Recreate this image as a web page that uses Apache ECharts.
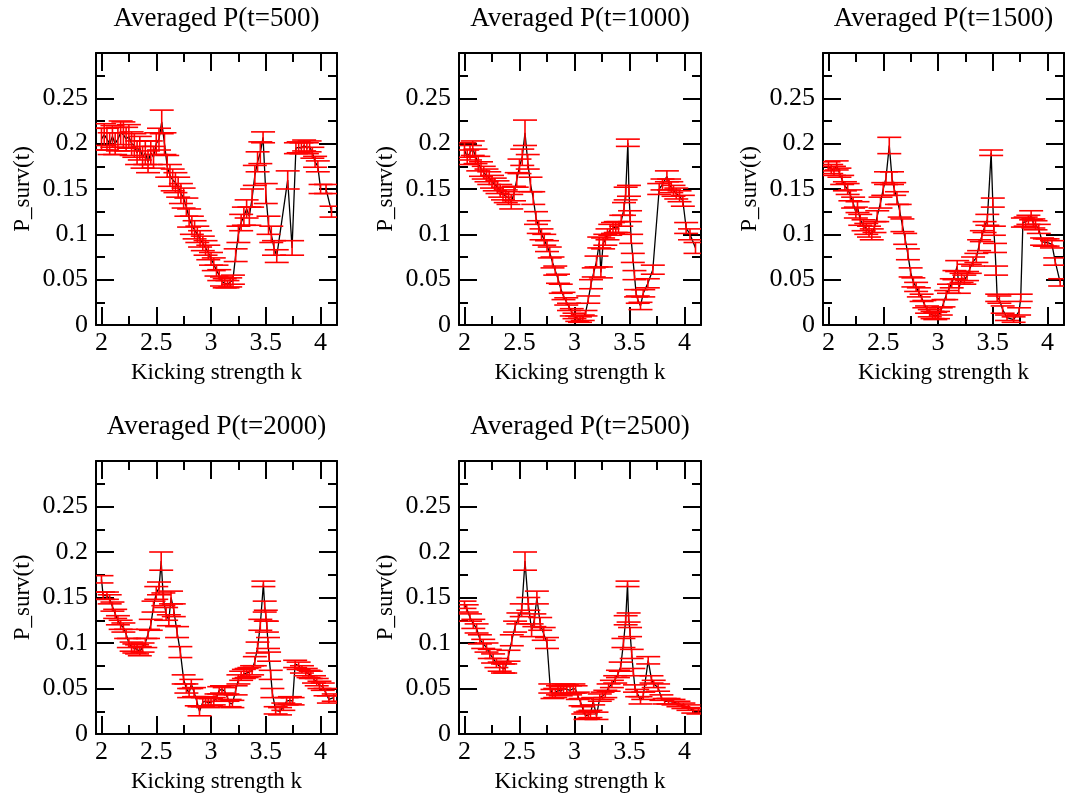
<!DOCTYPE html>
<html><head><meta charset="utf-8">
<script src="https://cdn.jsdelivr.net/npm/echarts@6/dist/echarts.min.js"></script>
<style>html,body{margin:0;padding:0;background:#fff}#c{width:1065px;height:799px}</style>
</head><body><div id="c"></div>
<script>
const titles = ['Averaged P(t=500)','Averaged P(t=1000)','Averaged P(t=1500)','Averaged P(t=2000)','Averaged P(t=2500)'];
const xTickLabels = [2, 2.5, 3, 3.5, 4];
const xMinorTicks = [2.25, 2.75, 3.25, 3.75];
const xName = 'Kicking strength k';
const yName = 'P_surv(t)';

const k500 = [2.000,2.025,2.050,2.075,2.100,2.125,2.150,2.175,2.200,2.225,2.250,2.275,2.300,2.325,2.350,2.375,2.400,2.425,2.450,2.475,2.500,2.525,2.550,2.575,2.600,2.625,2.650,2.675,2.700,2.725,2.750,2.775,2.800,2.825,2.850,2.875,2.900,2.925,2.950,2.975,3.000,3.025,3.050,3.075,3.100,3.125,3.150,3.175,3.200,3.225,3.250,3.275,3.300,3.325,3.350,3.375,3.400,3.425,3.450,3.475,3.500,3.525,3.550,3.575,3.600,3.700,3.740,3.775,3.800,3.825,3.850,3.875,3.900,3.925,3.950,3.975,4.000,4.050,4.100];
const p500 = [0.205,0.210,0.205,0.200,0.208,0.200,0.205,0.212,0.210,0.205,0.208,0.200,0.198,0.190,0.195,0.185,0.190,0.180,0.190,0.185,0.200,0.205,0.224,0.200,0.175,0.165,0.160,0.157,0.152,0.145,0.140,0.130,0.118,0.110,0.105,0.100,0.095,0.090,0.085,0.080,0.073,0.067,0.060,0.055,0.048,0.046,0.045,0.047,0.050,0.077,0.100,0.113,0.120,0.128,0.120,0.140,0.165,0.180,0.190,0.207,0.145,0.110,0.100,0.085,0.076,0.160,0.085,0.195,0.196,0.195,0.198,0.195,0.197,0.190,0.180,0.175,0.150,0.150,0.125];
const e500 = [0.012,0.012,0.012,0.012,0.012,0.012,0.013,0.013,0.014,0.013,0.013,0.013,0.013,0.013,0.013,0.012,0.013,0.012,0.013,0.012,0.012,0.012,0.013,0.012,0.012,0.012,0.012,0.011,0.011,0.011,0.011,0.010,0.010,0.010,0.010,0.009,0.009,0.008,0.008,0.008,0.007,0.007,0.006,0.006,0.005,0.005,0.004,0.005,0.005,0.007,0.009,0.009,0.010,0.010,0.010,0.010,0.011,0.011,0.012,0.006,0.011,0.010,0.009,0.008,0.007,0.010,0.008,0.006,0.006,0.006,0.006,0.006,0.006,0.006,0.006,0.006,0.005,0.005,0.006];

const k1000 = [2.000,2.025,2.050,2.075,2.100,2.125,2.150,2.175,2.200,2.225,2.250,2.275,2.300,2.325,2.350,2.375,2.400,2.425,2.450,2.475,2.500,2.525,2.550,2.575,2.600,2.625,2.650,2.675,2.700,2.725,2.750,2.775,2.800,2.825,2.850,2.875,2.900,2.925,2.950,2.975,3.000,3.025,3.050,3.075,3.100,3.125,3.150,3.175,3.200,3.225,3.240,3.260,3.280,3.300,3.325,3.350,3.375,3.400,3.425,3.450,3.465,3.485,3.495,3.505,3.515,3.530,3.545,3.560,3.575,3.600,3.625,3.667,3.712,3.770,3.800,3.840,3.860,3.880,3.900,3.925,3.955,3.985,4.015,4.050,4.100];
const p1000 = [0.193,0.185,0.190,0.195,0.186,0.178,0.172,0.168,0.165,0.162,0.158,0.155,0.152,0.148,0.145,0.142,0.140,0.136,0.145,0.160,0.175,0.185,0.212,0.180,0.155,0.140,0.118,0.108,0.100,0.094,0.087,0.080,0.069,0.060,0.051,0.040,0.032,0.026,0.020,0.014,0.010,0.007,0.006,0.008,0.013,0.028,0.045,0.058,0.070,0.091,0.058,0.090,0.094,0.100,0.105,0.107,0.108,0.108,0.115,0.128,0.145,0.201,0.148,0.120,0.095,0.074,0.055,0.035,0.028,0.021,0.035,0.046,0.061,0.150,0.155,0.164,0.155,0.152,0.148,0.145,0.142,0.137,0.107,0.100,0.085];
const e1000 = [0.008,0.008,0.008,0.008,0.008,0.008,0.008,0.007,0.007,0.007,0.007,0.007,0.007,0.007,0.007,0.007,0.007,0.008,0.008,0.008,0.008,0.009,0.014,0.008,0.008,0.007,0.007,0.007,0.006,0.006,0.006,0.006,0.006,0.005,0.005,0.005,0.004,0.004,0.004,0.004,0.003,0.003,0.003,0.003,0.003,0.004,0.005,0.005,0.006,0.006,0.006,0.006,0.006,0.006,0.006,0.006,0.006,0.006,0.006,0.007,0.007,0.004,0.006,0.006,0.005,0.005,0.005,0.004,0.004,0.004,0.004,0.005,0.005,0.006,0.006,0.006,0.006,0.006,0.006,0.006,0.006,0.006,0.006,0.006,0.006];

const k1500 = [2.000,2.025,2.050,2.075,2.100,2.125,2.150,2.175,2.200,2.225,2.250,2.265,2.290,2.320,2.345,2.370,2.395,2.420,2.445,2.475,2.500,2.525,2.555,2.580,2.600,2.625,2.650,2.675,2.700,2.725,2.750,2.775,2.800,2.825,2.850,2.875,2.900,2.925,2.950,2.975,3.000,3.025,3.050,3.075,3.100,3.125,3.150,3.175,3.190,3.215,3.240,3.265,3.290,3.320,3.350,3.375,3.400,3.425,3.450,3.485,3.500,3.510,3.520,3.530,3.540,3.560,3.590,3.630,3.690,3.740,3.755,3.775,3.800,3.825,3.850,3.870,3.890,3.920,3.950,3.975,4.000,4.040,4.070,4.115];
const p1500 = [0.175,0.172,0.170,0.176,0.168,0.160,0.153,0.150,0.143,0.135,0.124,0.130,0.116,0.110,0.106,0.103,0.100,0.108,0.120,0.135,0.150,0.162,0.198,0.162,0.150,0.140,0.126,0.110,0.095,0.078,0.058,0.047,0.042,0.036,0.030,0.023,0.017,0.013,0.011,0.010,0.011,0.015,0.024,0.033,0.040,0.046,0.055,0.065,0.040,0.052,0.050,0.054,0.062,0.070,0.074,0.088,0.098,0.108,0.116,0.190,0.135,0.104,0.085,0.060,0.030,0.028,0.017,0.008,0.006,0.015,0.030,0.113,0.114,0.116,0.121,0.112,0.110,0.106,0.092,0.091,0.091,0.089,0.070,0.047];
const e1500 = [0.005,0.005,0.005,0.005,0.005,0.005,0.005,0.006,0.006,0.006,0.006,0.006,0.006,0.006,0.006,0.006,0.006,0.006,0.006,0.006,0.007,0.007,0.009,0.007,0.007,0.007,0.007,0.007,0.006,0.006,0.005,0.005,0.005,0.005,0.004,0.004,0.004,0.004,0.004,0.004,0.004,0.004,0.004,0.005,0.005,0.005,0.005,0.006,0.005,0.005,0.005,0.005,0.005,0.005,0.005,0.006,0.006,0.006,0.006,0.003,0.005,0.005,0.005,0.005,0.004,0.004,0.004,0.003,0.003,0.004,0.004,0.005,0.005,0.005,0.005,0.005,0.005,0.005,0.004,0.004,0.004,0.004,0.004,0.004];

const k2000 = [2.000,2.015,2.050,2.075,2.100,2.125,2.150,2.175,2.200,2.225,2.250,2.275,2.300,2.325,2.350,2.375,2.400,2.425,2.450,2.475,2.500,2.525,2.545,2.565,2.590,2.615,2.635,2.660,2.690,2.720,2.750,2.775,2.800,2.820,2.845,2.870,2.895,2.925,2.950,2.975,3.000,3.025,3.050,3.075,3.100,3.125,3.150,3.170,3.195,3.225,3.250,3.275,3.300,3.325,3.350,3.375,3.400,3.425,3.450,3.478,3.490,3.500,3.510,3.520,3.530,3.545,3.560,3.590,3.630,3.660,3.690,3.720,3.745,3.768,3.800,3.830,3.865,3.890,3.910,3.940,3.965,3.990,4.020,4.045,4.076,4.120];
const p2000 = [0.170,0.152,0.152,0.148,0.140,0.132,0.125,0.120,0.117,0.110,0.100,0.096,0.094,0.093,0.091,0.095,0.100,0.110,0.120,0.140,0.155,0.160,0.190,0.148,0.132,0.125,0.150,0.136,0.112,0.090,0.060,0.050,0.045,0.055,0.046,0.036,0.025,0.035,0.036,0.034,0.035,0.036,0.040,0.048,0.049,0.047,0.040,0.034,0.033,0.048,0.060,0.064,0.066,0.067,0.068,0.070,0.080,0.095,0.120,0.165,0.140,0.130,0.118,0.100,0.085,0.065,0.045,0.026,0.025,0.030,0.036,0.037,0.036,0.077,0.075,0.071,0.068,0.066,0.065,0.060,0.057,0.054,0.052,0.046,0.038,0.040];
const e2000 = [0.004,0.004,0.004,0.005,0.005,0.005,0.005,0.005,0.005,0.005,0.005,0.005,0.005,0.005,0.005,0.005,0.005,0.005,0.006,0.006,0.007,0.007,0.010,0.007,0.007,0.006,0.007,0.007,0.006,0.006,0.005,0.005,0.005,0.005,0.005,0.005,0.005,0.005,0.005,0.005,0.004,0.004,0.004,0.004,0.004,0.004,0.004,0.004,0.004,0.005,0.005,0.005,0.005,0.005,0.005,0.005,0.005,0.006,0.006,0.003,0.006,0.006,0.006,0.006,0.005,0.005,0.005,0.004,0.004,0.004,0.004,0.004,0.004,0.004,0.004,0.004,0.004,0.004,0.004,0.004,0.004,0.004,0.004,0.004,0.004,0.004];

const k2500 = [2.000,2.020,2.050,2.080,2.110,2.140,2.170,2.200,2.230,2.260,2.290,2.320,2.350,2.370,2.400,2.430,2.460,2.490,2.520,2.550,2.580,2.610,2.635,2.658,2.688,2.720,2.750,2.780,2.800,2.825,2.850,2.875,2.900,2.930,2.960,2.990,3.010,3.030,3.055,3.080,3.100,3.125,3.145,3.170,3.200,3.230,3.255,3.280,3.310,3.340,3.370,3.395,3.420,3.445,3.465,3.482,3.492,3.505,3.520,3.535,3.550,3.570,3.600,3.625,3.670,3.700,3.720,3.760,3.790,3.820,3.855,3.900,3.945,3.990,4.036,4.080,4.127];
const p2500 = [0.142,0.138,0.128,0.121,0.116,0.104,0.099,0.095,0.088,0.083,0.078,0.074,0.072,0.072,0.086,0.103,0.118,0.127,0.136,0.190,0.143,0.114,0.125,0.150,0.121,0.110,0.100,0.050,0.044,0.045,0.048,0.047,0.050,0.049,0.048,0.050,0.049,0.042,0.035,0.026,0.020,0.021,0.022,0.036,0.020,0.040,0.042,0.044,0.051,0.055,0.060,0.066,0.074,0.100,0.125,0.165,0.128,0.112,0.088,0.068,0.050,0.045,0.037,0.042,0.081,0.060,0.055,0.051,0.040,0.036,0.036,0.035,0.033,0.031,0.029,0.026,0.025];
const e2500 = [0.004,0.004,0.004,0.005,0.005,0.005,0.005,0.005,0.005,0.005,0.005,0.005,0.005,0.005,0.006,0.006,0.006,0.006,0.007,0.010,0.007,0.007,0.007,0.007,0.007,0.007,0.006,0.005,0.005,0.005,0.005,0.005,0.005,0.005,0.005,0.005,0.004,0.004,0.004,0.004,0.004,0.004,0.004,0.004,0.004,0.004,0.004,0.004,0.004,0.004,0.004,0.004,0.005,0.005,0.005,0.003,0.005,0.005,0.005,0.004,0.004,0.004,0.004,0.004,0.004,0.004,0.004,0.004,0.003,0.003,0.003,0.003,0.003,0.003,0.003,0.003,0.003];

const panels = [
  {title: titles[0], k: k500, p: p500, e: e500},
  {title: titles[1], k: k1000, p: p1000, e: e1000},
  {title: titles[2], k: k1500, p: p1500, e: e1500},
  {title: titles[3], k: k2000, p: p2000, e: e2000},
  {title: titles[4], k: k2500, p: p2500, e: e2500}
];

const FONT = '"Liberation Serif", "Times New Roman", serif';
const boxes = [
  {left: 96, top: 53, width: 241, height: 272},
  {left: 459, top: 53, width: 242, height: 272},
  {left: 823, top: 53, width: 241, height: 272},
  {left: 96, top: 461, width: 241, height: 273},
  {left: 459, top: 461, width: 242, height: 273}
];

const grids = [], xAxes = [], yAxes = [], series = [], graphics = [];
const lineBlack = {color: '#000', width: 2};

panels.forEach((pn, i) => {
  const b = boxes[i];
  grids.push({left: b.left, top: b.top, width: b.width, height: b.height, containLabel: false, outerBoundsMode: 'none'});
  const xBase = {gridIndex: i, type: 'value', min: 1.95, max: 4.15, splitLine: {show: false}};
  xAxes.push(Object.assign({}, xBase, {
    position: 'bottom',
    axisLine: {show: true, onZero: false, lineStyle: lineBlack},
    axisTick: {show: true, inside: true, length: 18, customValues: xTickLabels, lineStyle: lineBlack},
    axisLabel: {show: true, customValues: xTickLabels, color: '#000', fontFamily: FONT, fontSize: 26, margin: 5},
    name: xName, nameLocation: 'middle', nameGap: 36,
    nameTextStyle: {color: '#000', fontFamily: FONT, fontSize: 23}
  }));
  xAxes.push(Object.assign({}, xBase, {
    position: 'bottom',
    axisLine: {show: false, onZero: false},
    axisTick: {show: true, inside: true, length: 9, customValues: xMinorTicks, lineStyle: lineBlack},
    axisLabel: {show: false}
  }));
  xAxes.push(Object.assign({}, xBase, {
    position: 'top',
    axisLine: {show: true, onZero: false, lineStyle: lineBlack},
    axisTick: {show: true, inside: true, length: 18, customValues: xTickLabels, lineStyle: lineBlack},
    axisLabel: {show: false}
  }));
  xAxes.push(Object.assign({}, xBase, {
    position: 'top',
    axisLine: {show: false, onZero: false},
    axisTick: {show: true, inside: true, length: 9, customValues: xMinorTicks, lineStyle: lineBlack},
    axisLabel: {show: false}
  }));
  const yBase = {
    gridIndex: i, type: 'value', min: 0, max: 0.3, interval: 0.05,
    splitLine: {show: false},
    axisLine: {show: true, onZero: false, lineStyle: lineBlack},
    axisTick: {show: true, inside: true, length: 18, lineStyle: lineBlack},
    minorTick: {show: true, splitNumber: 2, length: 9, lineStyle: lineBlack}
  };
  yAxes.push(Object.assign({}, yBase, {
    position: 'left',
    axisLabel: {show: true, color: '#000', fontFamily: FONT, fontSize: 26, margin: 8,
      formatter: v => (v > 0.29 ? '' : String(Math.round(v * 1000) / 1000))},
    name: yName, nameLocation: 'middle', nameGap: 62, nameRotate: 90,
    nameTextStyle: {color: '#000', fontFamily: FONT, fontSize: 23}
  }));
  yAxes.push(Object.assign({}, yBase, {
    position: 'right',
    axisLabel: {show: false}
  }));

  const pts = pn.k.map((x, j) => [x, pn.p[j]]);
  const bars = pn.k.map((x, j) => [x, pn.p[j], pn.e[j]]);
  series.push({
    type: 'line', xAxisIndex: 4 * i, yAxisIndex: 2 * i, data: pts,
    showSymbol: false, symbol: 'none', silent: true, animation: false,
    lineStyle: {color: '#000', width: 1.3}, z: 2, clip: true
  });
  series.push({
    type: 'custom', xAxisIndex: 4 * i, yAxisIndex: 2 * i, data: bars,
    encode: {x: 0, y: 1}, clip: true, animation: false, silent: true, z: 3,
    renderItem: function (params, api) {
      const x = api.value(0), y = api.value(1), e = api.value(2);
      const t = api.coord([x, y + e]);
      const bt = api.coord([x, y - e]);
      const hw = 12;
      const st = {stroke: '#ff0000', lineWidth: 1.6};
      return {type: 'group', children: [
        {type: 'line', shape: {x1: t[0], y1: t[1], x2: bt[0], y2: bt[1]}, style: st},
        {type: 'line', shape: {x1: t[0] - hw, y1: t[1], x2: t[0] + hw, y2: t[1]}, style: st},
        {type: 'line', shape: {x1: bt[0] - hw, y1: bt[1], x2: bt[0] + hw, y2: bt[1]}, style: st}
      ]};
    }
  });
  graphics.push({
    type: 'text', x: b.left + b.width / 2, y: b.top - 48,
    style: {text: pn.title, fill: '#000', font: '27px ' + FONT, align: 'center', verticalAlign: 'top'}
  });
});

const chart = echarts.init(document.getElementById('c'), null, {renderer: 'canvas'});
chart.setOption({
  backgroundColor: '#fff',
  animation: false,
  grid: grids,
  xAxis: xAxes,
  yAxis: yAxes,
  series: series,
  graphic: graphics
});
</script>
</body></html>
